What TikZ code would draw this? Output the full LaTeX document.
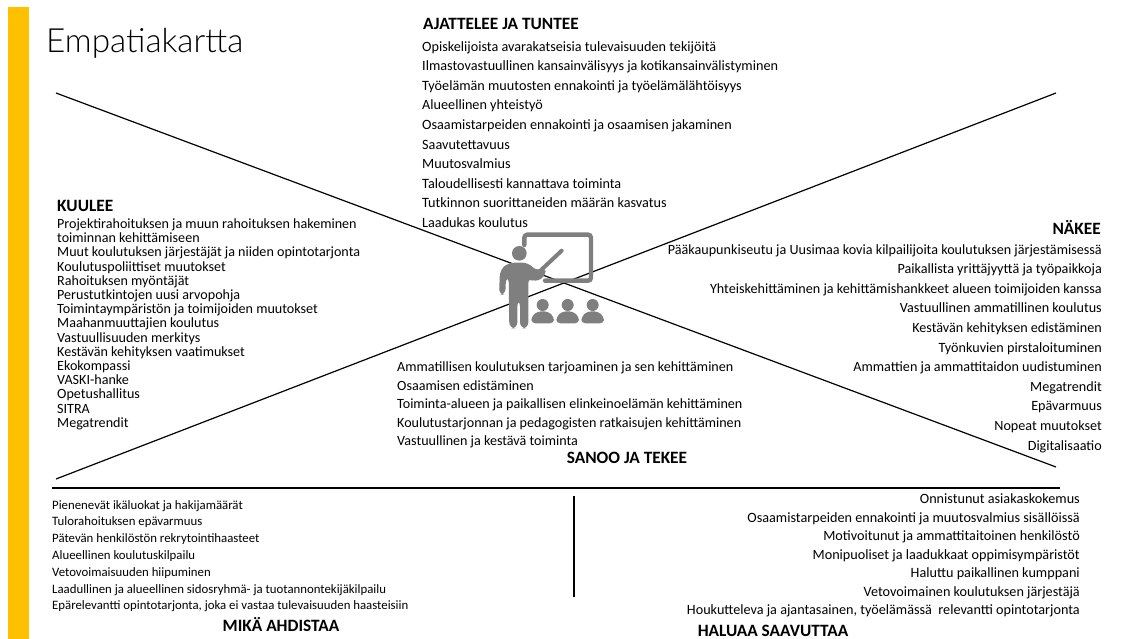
\documentclass[tikz,border=0pt]{standalone}
\usepackage{fontspec}
\setmainfont{Carlito}
\newfontfamily\lightfont[UprightFont=* Light]{Lato}
\usetikzlibrary{calc}
\definecolor{barcol}{HTML}{FFC000}
\definecolor{iconcol}{HTML}{7F7F7F}
\tikzset{
    heading/.style = {inner sep=0pt, font=\fontsize{17.3}{20}\selectfont\bfseries},
    listleft/.style = {inner sep=0pt, anchor=north west, align=left},
    listright/.style = {inner sep=0pt, anchor=north east, align=right},
    crossline/.style = {line width=1.2pt},
    iconline/.style = {draw=iconcol, line width=4.4pt, line cap=round, rounded corners=3pt}
}

\begin{document}
\begin{tikzpicture}[x=1pt,y=-1pt]
    \useasboundingbox (0,0) rectangle (1133,639);
    \fill[barcol] (8,7) rectangle (29,639);

    \coordinate (tl) at (56,93);
    \coordinate (tr) at (1056,93);
    \coordinate (bl) at (56,479);
    \coordinate (br) at (1056,467);
    \coordinate (hl) at (52,488);
    \coordinate (hr) at (1060,488);
    \coordinate (vt) at (574,496);
    \coordinate (vb) at (574,597);

    \draw[crossline] (tl) -- (br);
    \draw[crossline] (tr) -- (bl);
    \draw[crossline] (hl) -- (hr);
    \draw[crossline] (vt) -- (vb);

    % the teacher
    \begin{scope}[shift={(480,220)},scale=1/3]
        \draw[iconline] (133,75) -- (133,44) -- (333,44) -- (333,182) -- (195,182);
        \draw[iconcol, line width=4pt, line cap=round] (175,158) -- (245,92);
        \fill[iconcol] (118,100) circle (22);
        \fill[iconcol, rounded corners=6pt] (85,128) -- (145,128) -- (172,155) -- (192,140) -- (200,165) -- (165,188) -- (145,172)
            -- (145,325) -- (120,325) -- (120,240) -- (112,240) -- (112,325) -- (88,325) -- (86,170) -- (78,170) -- (76,225) -- (57,225) -- (60,150) -- cycle;
        \foreach \px in {188,263,338} {
            \fill[iconcol] (\px,255) circle (18);
            \fill[iconcol, rounded corners=4pt] (\px-34,310) -- (\px-34,290) -- (\px-16,274) -- (\px+16,274) -- (\px+34,290) -- (\px+34,310) -- cycle;
        }
    \end{scope}

    \node[inner sep=0pt, anchor=west, font=\fontsize{33.3}{38}\selectfont\lightfont] (title) at (46,43) {Empatiakartta};

    \node[heading, anchor=west] (ajattelee) at (423,24) {AJATTELEE JA TUNTEE};
    \node[listleft, font=\fontsize{14.2}{19.6}\selectfont] (ajattelelist) at (422,41) {Opiskelijoista avarakatseisia tulevaisuuden tekijöitä\\
        Ilmastovastuullinen kansainvälisyys ja kotikansainvälistyminen\\
        Työelämän muutosten ennakointi ja työelämälähtöisyys\\
        Alueellinen yhteistyö\\
        Osaamistarpeiden ennakointi ja osaamisen jakaminen\\
        Saavutettavuus\\
        Muutosvalmius\\
        Taloudellisesti kannattava toiminta\\
        Tutkinnon suorittaneiden määrän kasvatus\\
        Laadukas koulutus};

    \node[heading, anchor=west] (kuulee) at (57,206) {KUULEE};
    \node[listleft, font=\fontsize{14.1}{14.2}\selectfont] (kuuleelist) at (57,218.5) {Projektirahoituksen ja muun rahoituksen hakeminen\\
        toiminnan kehittämiseen\\
        Muut koulutuksen järjestäjät ja niiden opintotarjonta\\
        Koulutuspoliittiset muutokset\\
        Rahoituksen myöntäjät\\
        Perustutkintojen uusi arvopohja\\
        Toimintaympäristön ja toimijoiden muutokset\\
        Maahanmuuttajien koulutus\\
        Vastuullisuuden merkitys\\
        Kestävän kehityksen vaatimukset\\
        Ekokompassi\\
        VASKI-hanke\\
        Opetushallitus\\
        SITRA\\
        Megatrendit};

    \node[heading, anchor=east] (nakee) at (1101,227) {NÄKEE};
    \node[listright, font=\fontsize{14.15}{19.6}\selectfont] (nakeelist) at (1102,244) {Pääkaupunkiseutu ja Uusimaa kovia kilpailijoita koulutuksen järjestämisessä\\
        Paikallista yrittäjyyttä ja työpaikkoja\\
        Yhteiskehittäminen ja kehittämishankkeet alueen toimijoiden kanssa\\
        Vastuullinen ammatillinen koulutus\\
        Kestävän kehityksen edistäminen\\
        Työnkuvien pirstaloituminen\\
        Ammattien ja ammattitaidon uudistuminen\\
        Megatrendit\\
        Epävarmuus\\
        Nopeat muutokset\\
        Digitalisaatio};

    \node[listleft, font=\fontsize{14.1}{18.5}\selectfont] (sanoolist) at (397,362) {Ammatillisen koulutuksen tarjoaminen ja sen kehittäminen\\
        Osaamisen edistäminen\\
        Toiminta-alueen ja paikallisen elinkeinoelämän kehittäminen\\
        Koulutustarjonnan ja pedagogisten ratkaisujen kehittäminen\\
        Vastuullinen ja kestävä toiminta};
    \node[heading] (sanoo) at (627,458) {SANOO JA TEKEE};

    \node[listleft, font=\fontsize{12.8}{16.8}\selectfont] (mikalist) at (52,500) {Pienenevät ikäluokat ja hakijamäärät\\
        Tulorahoituksen epävarmuus\\
        Pätevän henkilöstön rekrytointihaasteet\\
        Alueellinen koulutuskilpailu\\
        Vetovoimaisuuden hiipuminen\\
        Laadullinen ja alueellinen sidosryhmä- ja tuotannontekijäkilpailu\\
        Epärelevantti opintotarjonta, joka ei vastaa tulevaisuuden haasteisiin};
    \node[heading] (mika) at (281,624.5) {MIKÄ AHDISTAA};

    \node[listright, font=\fontsize{14.2}{18.5}\selectfont] (haluaalist) at (1080,493.5) {Onnistunut asiakaskokemus\\
        Osaamistarpeiden ennakointi ja muutosvalmius sisällöissä\\
        Motivoitunut ja ammattitaitoinen henkilöstö\\
        Monipuoliset ja laadukkaat oppimisympäristöt\\
        Haluttu paikallinen kumppani\\
        Vetovoimainen koulutuksen järjestäjä\\
        Houkutteleva ja ajantasainen, työelämässä\ \ relevantti opintotarjonta};
    \node[heading] (haluaa) at (773,631) {HALUAA SAAVUTTAA};
\end{tikzpicture}
\end{document}
